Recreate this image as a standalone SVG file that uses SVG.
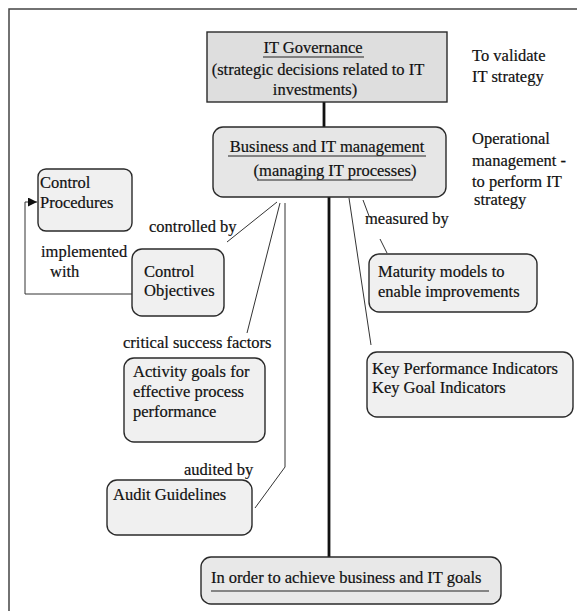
<svg xmlns="http://www.w3.org/2000/svg" width="577" height="611" viewBox="0 0 577 611">
  <style>
    text { font-family: "Liberation Serif", "Times New Roman", serif; font-size: 16.5px; fill: #111; stroke: #111; stroke-width: 0.2px; }
    .box { stroke: #2a2a2a; stroke-width: 1.4; }
    .gov { fill: #dedede; }
    .mgmt { fill: #e6e6e6; }
    .leaf { fill: #f0f0f0; }
    .goal { fill: #e8e8e8; }
    .ul { stroke: #222; stroke-width: 1.2; }
    .thin { stroke: #333; stroke-width: 1; fill: none; }
    .thick { stroke: #111; stroke-width: 2.8; fill: none; }
  </style>
  <defs>
    <marker id="arrow" viewBox="0 0 10 10" refX="10" refY="5" markerWidth="9" markerHeight="9" markerUnits="userSpaceOnUse" orient="auto">
      <path d="M0,0 L10,5 L0,10 z" fill="#111"/>
    </marker>
  </defs>

  <rect width="577" height="611" fill="#fff"/>
  <!-- page frame -->
  <path d="M9,611 V9 H577" fill="none" stroke="#444" stroke-width="1.5"/>

  <g id="connectors">
    <line class="thick" x1="324" y1="102" x2="324" y2="127"/>
    <line class="thick" x1="329" y1="197" x2="329" y2="557"/>
    <line class="thin" x1="277" y1="202" x2="227" y2="242"/>
    <line class="thin" x1="280" y1="203" x2="247" y2="333"/>
    <polyline class="thin" points="285,203 285,467 255,508"/>
    <line class="thin" x1="363" y1="200" x2="369" y2="216"/>
    <line class="thin" x1="380" y1="239" x2="387" y2="253"/>
    <line class="thin" x1="349" y1="198" x2="371" y2="345"/>
    <polyline class="thin" points="132,294 25,294 25,202 37,202" marker-end="url(#arrow)"/>
    <text x="149" y="232">controlled by</text>
    <text x="41" y="257">implemented</text>
    <text x="50" y="277">with</text>
    <text x="123" y="348">critical success factors</text>
    <text x="184" y="475">audited by</text>
    <text x="365" y="224">measured by</text>
  </g>

  <g id="it-governance">
    <rect class="box gov" x="207" y="32" width="240" height="70"/>
    <text x="313" y="53" text-anchor="middle">IT Governance</text>
    <line class="ul" x1="263" y1="57" x2="364" y2="57"/>
    <text x="318" y="75" text-anchor="middle">(strategic decisions related to IT</text>
    <text x="315" y="95" text-anchor="middle">investments)</text>
  </g>

  <g id="business-it-management">
    <rect class="box mgmt" x="213" y="127" width="233" height="70" rx="10"/>
    <text x="327" y="152" text-anchor="middle">Business and IT management</text>
    <line class="ul" x1="228" y1="156" x2="426" y2="156"/>
    <text x="335" y="176" text-anchor="middle">(managing IT processes)</text>
    <line class="ul" x1="257" y1="180" x2="413" y2="180"/>
  </g>

  <g id="note-validate">
    <text x="472" y="61">To validate</text>
    <text x="472" y="82">IT strategy</text>
  </g>

  <g id="note-operational">
    <text x="472" y="144">Operational</text>
    <text x="472" y="166">management -</text>
    <text x="472" y="187">to perform IT</text>
    <text x="474" y="205">strategy</text>
  </g>

  <g id="control-procedures">
    <rect class="box leaf" x="38" y="169" width="94" height="62" rx="8"/>
    <text x="40" y="188">Control</text>
    <text x="40" y="208">Procedures</text>
  </g>

  <g id="control-objectives">
    <rect class="box leaf" x="132" y="249" width="92" height="67" rx="10"/>
    <text x="144" y="277">Control</text>
    <text x="144" y="296">Objectives</text>
  </g>

  <g id="activity-goals">
    <rect class="box leaf" x="124" y="358" width="141" height="84" rx="10"/>
    <text x="133" y="377">Activity goals for</text>
    <text x="133" y="397">effective process</text>
    <text x="133" y="417">performance</text>
  </g>

  <g id="audit-guidelines">
    <rect class="box leaf" x="107" y="480" width="145" height="55" rx="10"/>
    <text x="113" y="500">Audit Guidelines</text>
  </g>

  <g id="maturity-models">
    <rect class="box leaf" x="369" y="254" width="168" height="58" rx="10"/>
    <text x="378" y="277">Maturity models to</text>
    <text x="378" y="297">enable improvements</text>
  </g>

  <g id="kpi-kgi">
    <rect class="box leaf" x="367" y="352" width="206" height="65" rx="10"/>
    <text x="372" y="374">Key Performance Indicators</text>
    <text x="372" y="393">Key Goal Indicators</text>
  </g>

  <g id="business-goals">
    <rect class="box goal" x="201" y="557" width="300" height="47" rx="10"/>
    <text x="211" y="583">In order to achieve business and IT goals</text>
    <line class="ul" x1="211" y1="591" x2="489" y2="591"/>
  </g>
</svg>
